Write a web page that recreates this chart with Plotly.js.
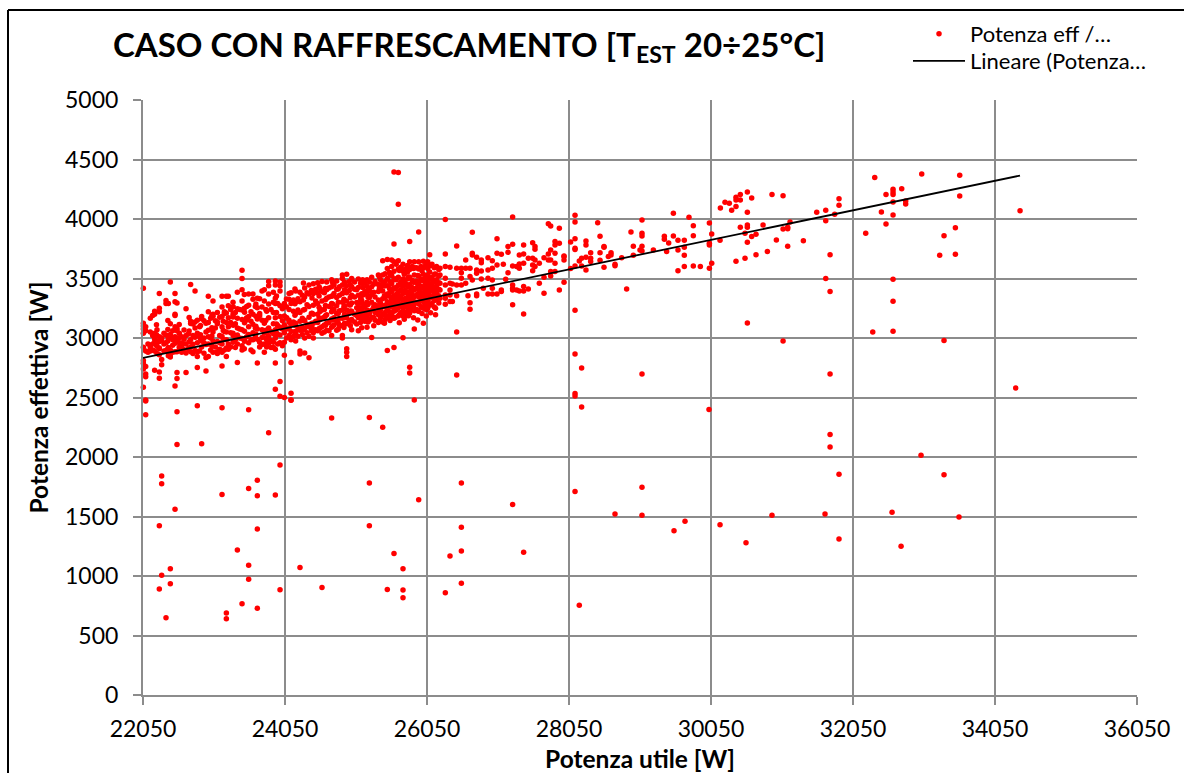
<!DOCTYPE html>
<html><head><meta charset="utf-8">
<script src="https://cdn.plot.ly/plotly-3.0.1.min.js"></script>
<style>html,body{margin:0;padding:0;background:#fff}#c{width:1184px;height:773px}</style>
</head><body><div id="c"></div>
<script>
const chartTitle = 'CASO CON RAFFRESCAMENTO [T<sub>EST</sub> 20÷25°C]';
const xTitle = 'Potenza utile [W]';
const yTitle = 'Potenza effettiva [W]';
const seriesNames = ['Potenza eff /…', 'Lineare (Potenza…'];
const trendX = [22050, 34402];
const trendY = [2832, 4365];
const columnX = [
22055,22088,22120,22153,22186,22214,22247,22280,22313,22345,22374,22407,22435,22468,22501,22529,22562,22595,22628,22656,22689,22721,22754,22783,22815,22848,22876,22909,22937,22970,23003,23036,23069,23097,23130,23163,23196,23224,23252,23285,23318,23351,23379,23412,23445,23477,23510,23538,23571,23599,23632,23660,23693,23726,23759,23792,23820,23853,23886,23914,23947,23980,24013,24041,24074,24107,24135,24168,24200,24233,24261,24294,24327,24360,24388,24421,24449,24482,24510,24543,24571,24604,24637,24670,24707,24740,24778,24818,24858,24888,24919,24955,24989,25030,25083,25115,25144,25175,25205,25238,25271,25318,25365,25395,25426,25460,25491,25522,25553,25585,25616,25646,25680,25712,25745,25775,25806,25840,25871,25902,25933,25966,25999,26030,26060,26088,26120,26153,26185,26216,
26233,26308,26374,26407,26468,26534,26595,26627,26656,26688,26749,26815,26843,26909,26970,27036,27097,27125,27158,27191,27256,27313,27350,27411,27477,27538,27571,27632,27698,27759,27792,27853,27914,27980,28073,28135,28195,28228,28289,28355,28454,28487,28543,28604,28642,28698,28792,28862,28923,28956,29050,29078,29238,29393,29425,29454,29520,29529,29585,29684,29674,29740,29801,29900,30022,30027,30060,30177,30182,30247,30308,30341,30402,30463,30529,30543,30562,30623,30684,30783,30844,30909,30971,31065,31130,31163,31351,31539,31656,31666,31727,31792,31853,32229,32328,32356,32450,32515,32600,32614,32727,32736,32792,33008,33018,33271,33332,33492,33543,33553,34342,34403,
22240,22400,22560,22700,22860,23020,23180,23320,23480,23640,23780,23930,24070,24190,24310,24430,24530,24620,24720,24800,24880,24970,25060,25130,25220,25300,25380,25450,25530,25600,25660,25730,25790,25860,25920,25980,26040,26100,26170
];
const columnY = [
[3418,3123,3076,2922,2810,2787,2740,2586,3100,3040],
[3095,2760,2698,2675,2479,2470,2355,3060,2890],
[2950,2880],
[3165,3050,2940,2920,2890],
[3190,2950,2900,3020],
[3200,3225,2990,2960,2890,2730,3000,3040],
[3070,2970,2930,2870],
[3375,3250,3220,3010,2970,2910,2915,2860,2715,2661,1423,891],
[2775,2820,2980,1840,1776,1006,3000],
[3040,2950,2890],
[3315,3290,3025,2960,2895,650],
[3290,3005,2920,2850],
[3470,3120,3030,3010,2900,2860,2840,1061,935],
[3060,2985,2940,2880],
[3375,3305,3200,3190,3095,3010,2955,2885,2597,1560],
[3295,3080,3060,3000,2970,2885,2710,2660,2381,2104],
[3040,2960],
[3010,2957,2880,2930],
[3067,2990,2902],
[3245,3022,2950,2875,2710],
[3033,2912],
[3450,3140,3122,2985,2925,2885],
[3118,3020,2947,2870],
[3395,3135,3085,3007,2895],
[3150,3040,2960,2885,2845,2752,2431],
[3095,3012,2890],
[3180,3162,2975,2925,2112],
[3145,3000,2960,2872],
[3125,3051,2945,2835,2723],
[3350,3220,3130,3065,3010,2950,2845],
[3165,3000,2900],
[3310,3200,3183,3050,2975,2880],
[3145,3085,2925],
[3215,3135,3120,2970,2870,2885],
[3175,3020,2960,2905],
[3350,3260,3180,3095,3012,2950,2880,2765,2414,1685],
[3220,3205,3055,2900],
[3350,3210,3130,3050,2985,2915,2845,689,641],
[3350,3270,3170,3095,2950,2920,2905],
[3240,3130,3045,2925],
[3300,3190,3177,3040,2965],
[3215,3120,2985,2920],
[3385,3245,3165,3085,3025,2950,2795,1218],
[3240,3075,3000],
[3570,3500,3405,3310,3235,3155,3070,2995,2935,2900,767],
[3365,3250,3145,2985,2910],
[3265,3170,3152,3010],
[3370,3275,3180,3095,3030,2960,2397,1736,1090,972],
[3220,3140,2985,2900],
[3370,3325,3200,3115,3045,2985,2885],
[3265,3085,3005],
[3335,3255,3160,3075,2990,2790,1804,1675,1395,728],
[3330,3205,3187,2965,2925],
[3395,3260,3150,3070,3005,2945],
[3405,3310,3125,3040,2950,2880],
[3225,3045,2985,2925],
[3475,3440,3370,3285,3170,3085,3015,2955,2204],
[3240,3055,2980,2920],
[3385,3300,3215,3120,3035,2965,2920],
[3480,3445,3335,3290,3170,3070,3000,2905,2790,2570,1680],
[3290,3105,3030,2950],
[3470,3440,3395,3270,3180,3090,3025,2960,2635,2510,1933,885],
[3245,3145,3075,2935],
[3290,3260,3185,3110,3045,2965,2855,2500],
[3170,3075,3000],
[3375,3325,3240,3150,3133,3085,3020],
[3380,3290,3120,3055,2985,2795,2535,2480,2476],
[3320,3225,3135,3012],
[3395,3300,3205,3125,3045,2975],
[3330,3235,3080,3015],
[3385,3305,3215,3140,3065,2890,2865,1071],
[3360,3165,3090,3030],
[3420,3345,3240,3150,3080,3000,2875],
[3380,3280,3115,3045],
[3445,3370,3265,3175,3095,3015,2835],
[3400,3205,3120,3060],
[3455,3375,3275,3200,3125,3045,3000],
[3410,3310,3140,3070],
[3465,3380,3290,3200,3130,3060],
[3415,3240,3155,3222,3085],
[3475,3390,3310,3235,3165,3095,3040,904],
[3380,3240,3175,3110,3050],
[3470,3405,3335,3195,3125,3065],
[3420,3345,3265,3130,3060],
[3490,3430,3350,3290,3220,3160,3090,3020,2328],
[3445,3375,3235,3170,3110],
[3480,3410,3340,3270,3205,3140,3065],
[3430,3360,3230,3165,3100],
[3530,3500,3445,3375,3300,3235,3165,3105,3020,3000],
[3470,3405,3270,3200,3125],
[3535,3440,3380,3310,3235,3170,3120,2910,2880,2845],
[3475,3400,3280,3210,3145],
[3500,3430,3360,3295,3225,3155,3070],
[3470,3410,3345,3200,3135],
[3495,3425,3360,3290,3225,3170,3060],
[3460,3325,3255,3190,3130],
[3490,3425,3360,3290,3225,3160],
[3460,3390,3265,3195,3140],
[3490,3435,3365,3300,3235,3170,3090],
[3470,3400,3340,3205,3150,2331,1781,1423],
[3510,3430,3365,3300,3235,3175,3005],
[3475,3345,3280,3215,3150],
[3530,3450,3390,3320,3250,3195,3130],
[3490,3425,3295,3235,3170],
[3650,3530,3460,3395,3330,3265,3200,3135,2249],
[3540,3475,3340,3275,3215,3155],
[3660,3585,3500,3440,3370,3305,3240,3180,2895,887],
[3550,3415,3350,3285,3220,3165],
[3655,3600,3525,3455,3390,3325,3260,3195],
[4395,3790,3640,3560,3490,3420,3355,3290,3225,3165,2920,1190],
[3620,3490,3425,3365,3300,3235],
[4390,4125,3650,3580,3510,3445,3385,3320,3255,3185],
[3595,3470,3405,3345,3280,3215],
[3620,3560,3495,3435,3375,3310,3250,3185,3003,1061,882,818],
[3580,3460,3400,3335,3275,3215],
[3610,3555,3495,3435,3375,3315,3255,3190],
[3810,3640,3575,3510,3450,3390,3330,3270,3210,2755,2705],
[3600,3485,3425,3365,3305,3245],
[3640,3590,3530,3470,3410,3350,3290,3230,3075,2479],
[3590,3480,3420,3360,3300,3240],
[3890,3640,3580,3520,3465,3405,3345,3285,3225,1641],
[3600,3495,3435,3380,3320,3260],
[3645,3590,3535,3480,3420,3365,3305,3250,3125],
[3610,3505,3450,3390,3335,3275],
[3640,3585,3530,3475,3420,3360,3305,3250],
[3700,3610,3555,3500,3445,3390,3335,3280],
[3620,3510,3460,3400,3345,3290],
[3590,3535,3480,3425,3370,3315,3260],
[3600,3490,3440,3380,3325],
[3575,3520,3465,3410,3355,3295],
[3586,3530,3460,3404,3334],
[3995,3706,3600,3502,3446,3362,3334,3283,860],
[3594,3460,3404,3362,3306,1168],
[3454,3306],
[3773,3586,3446,3356,3051,2689],
[3586,3549,3502,3446,1781,1410,1210,940],
[3656,3586,3460],
[3356],
[3586,3516,3297,3241],
[3888,3712,3698,3488],
[3678,3572,3544,3370,3356],
[3656,3633,3563,3496],
[3418],
[3675,3572,3502,3370],
[3650,3586,3488,3418,3370],
[3835,3712,3614,3370],
[3703,3404,3390],
[3619],
[3493],
[3768,3720,3549],
[4017,3787,3605,3446,3418,3404,3280,1600],
[3600,3404],
[3698,3622,3586,3395],
[3782,3706,3628,3432,3395,3202,1200],
[3670,3412],
[3801,3670,3614,3566],
[3768,3745,3656,3600],
[3628,3460],
[3675,3510,3376],
[3961,3706,3656],
[3941,3740,3656,3558,3521],
[3810,3782,3712,3628,3558],
[3922,3796,3404],
[3689,3684,3656,3468],
[3807,3583],
[4031,3975,3835,3754,3743,3605,3233,2866,2533,2513,1710],
[3647,755],
[3670,3605,2748,2420],
[3815,3782,3678,3572],
[3717,3670,3642],
[3969],
[3855,3717,3653],
[3768,3762,3594],
[3684],
[3717,3698],
[3608,3619,1520],
[3675],
[3412],
[3891],
[3770,3695],
[3740],
[3992,3880,3857,3770,3731,2698,1745,1510],
[3740],
[3855,3829],
[3726],
[3799],
[4048,3857],
[1380],
[3821,3740,3566],
[1460],
[3821,3762,3695,3600],
[4014],
[3944,3860,3605],
[3600],
[2400],
[3967,3796,3782,3586],
[3874,3628],
[3821,1430],
[4093],
[4140],
[4132],
[4073],
[4182,4160,4104,3644],
[4205,4160,3930],
[3880,3670],
[1280],
[4227,4056,3950,3930,3804,3126],
[4177,3852],
[3871,3700],
[3950],
[3726],
[4205,1510],
[3824],
[3916,4196,2975],
[3930,3919,3770],
[3975],
[3818],
[4056],
[1520],
[4073,3986,3499],
[3700,3390,2698,2190,2085],
[4039],
[4171,4115,1855,1310],
[3880],
[3051],
[4348],
[4059],
[4205,3958],
[1535],
[4249,4227,4205,4143,4034,3493,3308,3056],
[1250],
[4255],
[4151,4126],
[2015],
[4378],
[3695],
[3860,2978,1850],
[3927,3703],
[1495],
[4367,4193],
[2580],
[4070],
[3027,2941,3112],
[3071,2975,3148,2908],
[3002,3114,2923],
[3058,3172,2968],
[3105,2992,3027],
[3087,3189,3016,2934],
[3141,3062,2988],
[3205,3108,3022,3262],
[3128,3216,3057,2973],
[3182,3098,3286,3033],
[3147,3239,3066,2998],
[3214,3118,3352,3042],
[3168,3262,3083,3327],
[3192,3288,3107,3054,3411],
[3236,3148,3319,3072,3462],
[3207,3123,3337,3091,3398],
[3258,3168,3431,3077,3352],
[3186,3274,3107,3322,3416],
[3245,3152,3355,3098,3468,3286],
[3208,3301,3126,3412,3074],
[3262,3173,3383,3089,3325],
[3226,3147,3341,3104,3446,3278],
[3189,3298,3118,3406,3254],
[3241,3162,3372,3087,3318,3468],
[3208,3134,3343,3281,3411],
[3173,3262,3102,3384,3452],
[3227,3146,3312,3419,3278,3512],
[3191,3262,3123,3356,3438],
[3209,3148,3297,3387,3472,3530],
[3236,3172,3328,3411,3269,3497],
[3195,3128,3351,3286,3445,3568],
[3214,3158,3317,3392,3478,3535],
[3242,3186,3363,3298,3432,3512],
[3171,3268,3338,3401,3468,3584],
[3229,3152,3297,3372,3451,3525],
[3206,3263,3344,3418,3488,3562],
[3237,3184,3306,3386,3457,3516],
[3278,3212,3352,3428,3497,3608],
[3251,3196,3327,3404,3472,3538]
];
const xTickLabels = [22050,24050,26050,28050,30050,32050,34050,36050];
const yTickLabels = [0,500,1000,1500,2000,2500,3000,3500,4000,4500,5000];

const px = [], py = [];
columnX.forEach((x, i) => (columnY[i] || []).forEach(y => { px.push(x); py.push(y); }));

const font = 'Lato, "Open Sans", sans-serif';
const W = 1184, H = 773;
const gridColor = '#8c8c8c';
Plotly.newPlot('c', [
  {type:'scatter', mode:'markers', name:seriesNames[0], x:px, y:py,
   marker:{color:'#ff0000', size:5.5}, cliponaxis:false},
  {type:'scatter', mode:'lines', name:seriesNames[1], x:trendX, y:trendY,
   line:{color:'#000000', width:1.8}}
], {
  width:W, height:H, paper_bgcolor:'#fff', plot_bgcolor:'#fff',
  margin:{l:143, r:47, t:100, b:78, pad:0},
  font:{family:font, size:23, color:'#000'},
  title:{text:'<b>'+chartTitle+'</b>', font:{family:font, size:33, color:'#000'},
         x:113/W, xanchor:'left', xref:'container', y:1-45/H, yanchor:'middle'},
  xaxis:{range:[22050,36050], tickmode:'array', tickvals:xTickLabels, ticktext:xTickLabels.map(String),
         showgrid:true, gridcolor:gridColor, gridwidth:2, zeroline:false, showline:true, linecolor:gridColor, linewidth:2,
         ticks:'outside', ticklen:8, tickcolor:gridColor, tickwidth:2, ticklabelstandoff:4,
         tickfont:{size:23, family:font},
         title:{text:'<b>'+xTitle+'</b>', font:{size:24.5, family:font}, standoff:10}},
  yaxis:{range:[0,5000], tickmode:'array', tickvals:yTickLabels, ticktext:yTickLabels.map(String),
         showgrid:true, gridcolor:gridColor, gridwidth:2, zeroline:false, showline:true, linecolor:gridColor, linewidth:2,
         ticks:'outside', ticklen:8, tickcolor:gridColor, tickwidth:2, ticklabelstandoff:10,
         tickfont:{size:23, family:font},
         title:{text:'<b>'+yTitle+'</b>', font:{size:24.5, family:font}, standoff:9}},
  legend:{x:(908-143)/994, xanchor:'left', y:1+(100-13)/595, yanchor:'top',
          font:{size:22, family:font}, bgcolor:'rgba(0,0,0,0)', itemwidth:52, tracegroupgap:0},
  shapes:[
    {type:'line', xref:'paper', yref:'paper', x0:(8-143)/994, x1:(8-143)/994, y0:-1, y1:1+(100-10)/595, line:{color:'#000', width:2}},
    {type:'line', xref:'paper', yref:'paper', x0:(8-143)/994, x1:2, y0:1+(100-10)/595, y1:1+(100-10)/595, line:{color:'#000', width:2}}
  ]
}, {displayModeBar:false, responsive:false}).then(() => {
  // Excel's legend rows sit closer together than Plotly's default row height.
  const rows = document.querySelectorAll('.legend .traces');
  if (rows.length > 1) {
    const first = rows[0].getAttribute('transform').match(/translate\(([^,]+),\s*([^)]+)\)/);
    rows[1].setAttribute('transform', 'translate(' + first[1] + ',' + (parseFloat(first[2]) + 27) + ')');
  }
});
</script></body></html>
